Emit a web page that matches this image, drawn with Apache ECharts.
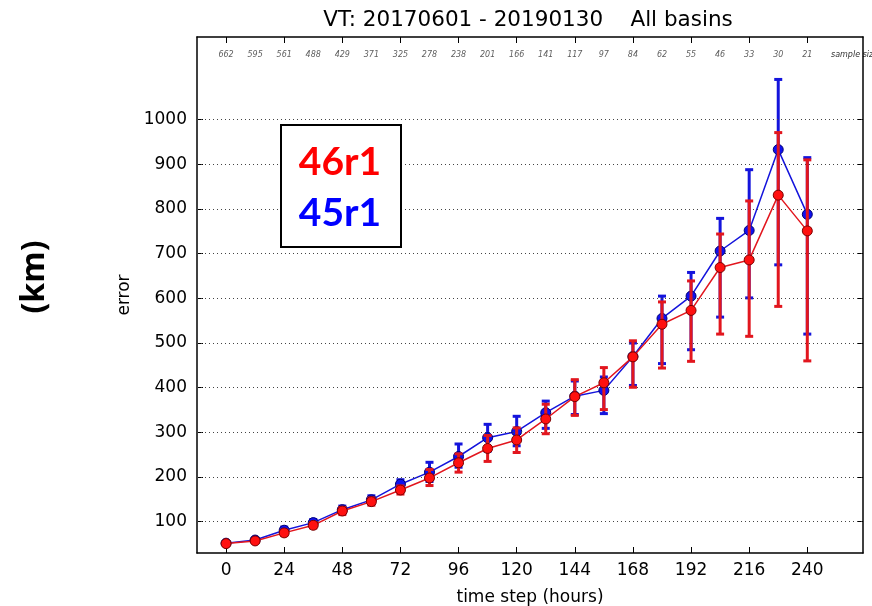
<!DOCTYPE html>
<html>
<head>
<meta charset="utf-8">
<script src="https://cdn.jsdelivr.net/npm/echarts@6/dist/echarts.min.js"></script>
<style>html,body{margin:0;padding:0;background:#fff}#c{width:872px;height:606px}</style>
</head>
<body>
<div id="c"></div>
<script>
const steps = [0,12,24,36,48,60,72,84,96,108,120,132,144,156,168,180,192,204,216,228,240];
const sampleSizes = [662,595,561,488,429,371,325,278,238,201,166,141,117,97,84,62,55,46,33,30,21];
const red46 = [51,57,75,92,124,145,171,198,232,264,283,330,380,411,469,542,573,669,686,831,751];
const red46Lo = [47,53,69,86,116,137,162,181,211,235,255,297,338,351,401,444,459,520,515,582,460];
const red46Hi = [55,61,81,98,132,153,180,217,252,293,310,363,418,445,505,592,639,744,818,971,910];
const blue45 = [52,59,81,98,127,149,184,211,246,288,302,344,381,394,470,555,605,706,752,933,788];
const blue45Lo = [48,55,74,91,119,140,174,190,222,258,270,309,340,342,405,454,485,558,601,675,520];
const blue45Hi = [56,63,88,105,135,158,194,233,274,318,336,370,415,424,500,605,658,779,888,1090,915];
const xTicks = [0,24,48,72,96,120,144,168,192,216,240];
const yTicks = [100,200,300,400,500,600,700,800,900,1000];

const RED = '#e2161e', BLUE = '#1414dc';

function errData(lo, hi){ return steps.map((t,i)=>[t, lo[i], hi[i]]); }
function errRender(color){
  return function(params, api){
    const x = api.value(0);
    const p1 = api.coord([x, api.value(1)]);
    const p2 = api.coord([x, api.value(2)]);
    const hw = 4;
    const st = {stroke: color, lineWidth: 3};
    return {type:'group', children:[
      {type:'line', shape:{x1:p1[0],y1:p1[1],x2:p2[0],y2:p2[1]}, style:st},
      {type:'line', shape:{x1:p1[0]-hw,y1:p1[1],x2:p1[0]+hw,y2:p1[1]}, style:st},
      {type:'line', shape:{x1:p2[0]-hw,y1:p2[1],x2:p2[0]+hw,y2:p2[1]}, style:st}
    ]};
  };
}

const chart = echarts.init(document.getElementById('c'), null, {renderer:'canvas'});
const F = 'DejaVu Sans';
const option = {
  animation:false,
  textStyle:{fontFamily:F},
  grid:{left:197, right:9, top:37, bottom:53, containLabel:false, outerBoundsMode:'none'},
  xAxis:[{
    type:'value', min:-12, max:263, position:'bottom',
    axisLine:{show:true, onZero:false, lineStyle:{color:'#000', width:1.5}},
    axisTick:{show:true, inside:true, length:6, customValues:xTicks, lineStyle:{color:'#000'}},
    axisLabel:{customValues:xTicks, fontSize:17, color:'#000', margin:9, fontFamily:F, formatter:v=>String(v)},
    splitLine:{show:false},
    name:'time step (hours)', nameLocation:'middle', nameGap:36,
    nameTextStyle:{fontSize:17, color:'#000', fontFamily:F}
  },{
    type:'value', min:-12, max:263, position:'top',
    axisLine:{show:true, onZero:false, lineStyle:{color:'#000', width:1.5}},
    axisTick:{show:true, inside:true, length:6, customValues:xTicks, lineStyle:{color:'#000'}},
    axisLabel:{show:false}, splitLine:{show:false}
  }],
  yAxis:[{
    type:'value', min:30, max:1185, position:'left',
    axisLine:{show:true, onZero:false, lineStyle:{color:'#000', width:1.5}},
    axisTick:{show:true, inside:true, length:6, customValues:yTicks, lineStyle:{color:'#000'}},
    axisLabel:{customValues:yTicks, fontSize:17, color:'#000', margin:10, fontFamily:F, formatter:v=>String(v)},
    splitLine:{show:false},
    name:'error', nameLocation:'middle', nameGap:51,
    nameTextStyle:{fontSize:17, color:'#000', fontFamily:F}
  },{
    type:'value', min:30, max:1185, position:'right',
    axisLine:{show:true, onZero:false, lineStyle:{color:'#000', width:1.5}},
    axisTick:{show:true, inside:true, length:6, customValues:yTicks, lineStyle:{color:'#000'}},
    axisLabel:{show:false}, splitLine:{show:false}
  }],
  series:[
    {
      type:'line', data:[], silent:true, z:1,
      markLine:{silent:true, symbol:'none', label:{show:false},
        lineStyle:{type:[1,3], color:'#444', width:1},
        data: yTicks.map(v=>({yAxis:v}))}
    },
    {
      type:'scatter', z:2, silent:true, symbolSize:0,
      data: steps.map(t=>[t,1144]),
      label:{show:true, position:'inside', fontSize:8, fontStyle:'italic', color:'#333', fontFamily:F,
        formatter:p=>String(sampleSizes[p.dataIndex])}
    },
    {type:'custom', z:3, data:errData(blue45Lo, blue45Hi), renderItem:errRender(BLUE), silent:true},
    {type:'line', z:4, data:steps.map((t,i)=>[t, blue45[i]]), symbol:'circle', symbolSize:10,
      lineStyle:{color:BLUE, width:1.5}, itemStyle:{color:'#1010f0', borderColor:'#000070', borderWidth:1}},
    {type:'custom', z:5, data:errData(red46Lo, red46Hi), renderItem:errRender(RED), silent:true},
    {type:'line', z:6, data:steps.map((t,i)=>[t, red46[i]]), symbol:'circle', symbolSize:10,
      lineStyle:{color:RED, width:1.5}, itemStyle:{color:'#ff1010', borderColor:'#7a0000', borderWidth:1}}
  ],
  graphic:[
    {type:'text', x:528, y:20, style:{text:'VT: 20170601 - 20190130    All basins', font:'21.5px "DejaVu Sans"', fill:'#000', align:'center', verticalAlign:'middle'}},
    {type:'text', x:831, y:55, style:{text:'sample size', font:'italic 8px "DejaVu Sans"', fill:'#333', align:'left', verticalAlign:'middle'}},
    {type:'text', x:35, y:277, rotation:Math.PI/2, style:{text:'(km)', font:'bold 32px "Open Sans"', fill:'#000', align:'center', verticalAlign:'middle'}},
    {type:'rect', shape:{x:281, y:125, width:120, height:122}, style:{fill:'#fff', stroke:'#000', lineWidth:2}, z:10},
    {type:'text', x:340, y:162, z:11, style:{text:'46r1', font:'bold 39px Lato', fill:'#ff0000', align:'center', verticalAlign:'middle'}},
    {type:'text', x:340, y:213, z:11, style:{text:'45r1', font:'bold 39px Lato', fill:'#0000ff', align:'center', verticalAlign:'middle'}}
  ]
};
chart.setOption(option);
</script>
</body>
</html>
